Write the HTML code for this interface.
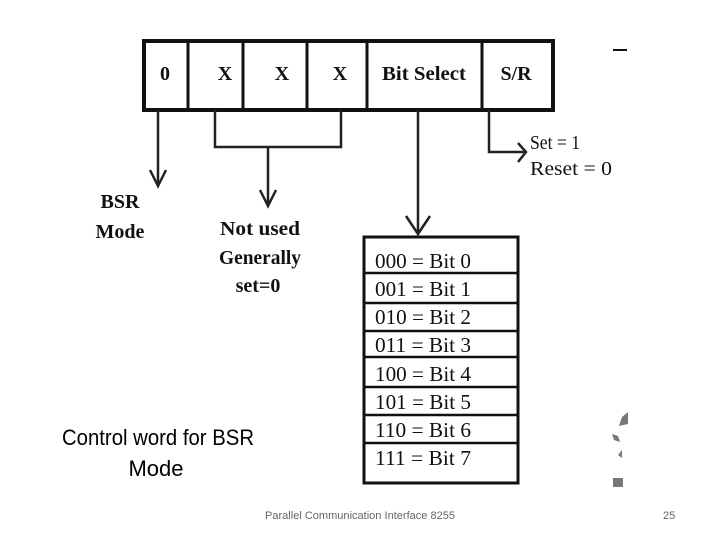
<!DOCTYPE html>
<html><head><style>
html,body{margin:0;padding:0;background:#fff;}
svg{display:block;}
</style></head><body>
<svg width="720" height="540" viewBox="0 0 720 540" xmlns="http://www.w3.org/2000/svg">
<rect width="720" height="540" fill="#fff"/>
<g font-family="Liberation Serif, serif" fill="#111">
<!-- top register -->
<rect x="144" y="41" width="409" height="69" fill="none" stroke="#111" stroke-width="4"/>
<g stroke="#111" stroke-width="3">
<line x1="188" y1="41" x2="188" y2="110"/>
<line x1="243" y1="41" x2="243" y2="110"/>
<line x1="307" y1="41" x2="307" y2="110"/>
<line x1="367" y1="41" x2="367" y2="110"/>
<line x1="482" y1="41" x2="482" y2="110"/>
</g>
<g font-size="20" font-weight="bold" text-anchor="middle">
<text x="165" y="80">0</text>
<text x="225" y="80">X</text>
<text x="282" y="80">X</text>
<text x="340" y="80">X</text>
<text x="424" y="80" textLength="84" lengthAdjust="spacingAndGlyphs">Bit Select</text>
<text x="516" y="80">S/R</text>
</g>
<line x1="613" y1="50" x2="627" y2="50" stroke="#111" stroke-width="2"/>
<!-- connectors -->
<g stroke="#222" stroke-width="2.5" fill="none">
<line x1="158" y1="110" x2="158" y2="185"/>
<polyline points="150,170 158,186 166,170"/>
<polyline points="215,110 215,147 341,147 341,110"/>
<line x1="268" y1="147" x2="268" y2="205"/>
<polyline points="260,190 268,206 276,190"/>
<line x1="418" y1="110" x2="418" y2="232"/>
<polyline points="406,216 418,234 430,216"/>
<polyline points="489,110 489,152 524,152"/>
<polyline points="518,143 526,152 518,162"/>
</g>
<g font-size="20">
<text x="530" y="149" textLength="50" lengthAdjust="spacingAndGlyphs">Set = 1</text>
<text x="530" y="175" textLength="82" lengthAdjust="spacingAndGlyphs">Reset = 0</text>
</g>
<g font-size="20" text-anchor="middle" font-weight="bold">
<text x="120" y="208">BSR</text>
<text x="120" y="238">Mode</text>
<text x="260" y="235" textLength="80" lengthAdjust="spacingAndGlyphs">Not used</text>
<text x="260" y="264" textLength="82" lengthAdjust="spacingAndGlyphs">Generally</text>
<text x="258" y="292">set=0</text>
</g>
<!-- bit table -->
<rect x="364" y="237" width="154" height="246" fill="none" stroke="#111" stroke-width="3"/>
<g stroke="#111" stroke-width="2.5">
<line x1="364" y1="273" x2="518" y2="273"/>
<line x1="364" y1="303" x2="518" y2="303"/>
<line x1="364" y1="331" x2="518" y2="331"/>
<line x1="364" y1="357" x2="518" y2="357"/>
<line x1="364" y1="387" x2="518" y2="387"/>
<line x1="364" y1="415" x2="518" y2="415"/>
<line x1="364" y1="443" x2="518" y2="443"/>
</g>
<g font-size="21">
<text x="375" y="268" textLength="96" lengthAdjust="spacingAndGlyphs">000 = Bit 0</text>
<text x="375" y="296" textLength="96" lengthAdjust="spacingAndGlyphs">001 = Bit 1</text>
<text x="375" y="324" textLength="96" lengthAdjust="spacingAndGlyphs">010 = Bit 2</text>
<text x="375" y="352" textLength="96" lengthAdjust="spacingAndGlyphs">011 = Bit 3</text>
<text x="375" y="381" textLength="96" lengthAdjust="spacingAndGlyphs">100 = Bit 4</text>
<text x="375" y="409" textLength="96" lengthAdjust="spacingAndGlyphs">101 = Bit 5</text>
<text x="375" y="437" textLength="96" lengthAdjust="spacingAndGlyphs">110 = Bit 6</text>
<text x="375" y="465" textLength="96" lengthAdjust="spacingAndGlyphs">111 = Bit 7</text>
</g>
</g>
<g fill="#777">
<polygon points="622,417 628,412 628,424 619,426"/>
<polygon points="612,434 618,436 620,442 614,440"/>
<polygon points="618,455 622,450 622,458"/>
<rect x="613" y="478" width="10" height="9"/>
</g>
<g font-family="Liberation Sans, sans-serif">
<text x="158" y="445" font-size="22" text-anchor="middle" fill="#000" textLength="192" lengthAdjust="spacingAndGlyphs">Control word for BSR</text>
<text x="156" y="476" font-size="22" text-anchor="middle" fill="#000" textLength="55" lengthAdjust="spacingAndGlyphs">Mode</text>
<text x="265" y="519" font-size="11" fill="#666" textLength="190" lengthAdjust="spacingAndGlyphs">Parallel Communication Interface 8255</text>
<text x="663" y="519" font-size="11" fill="#666">25</text>
</g>
</svg>
</body></html>
